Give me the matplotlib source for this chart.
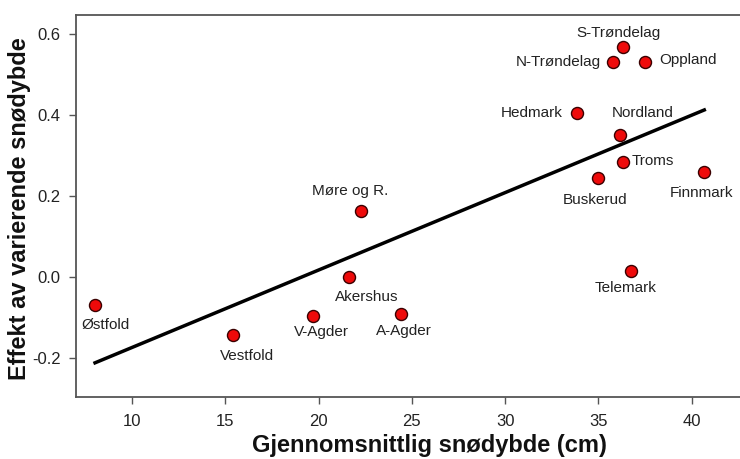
import matplotlib
matplotlib.use("Agg")
import matplotlib.pyplot as plt
import numpy as np

plt.rcParams['font.family'] = ['Liberation Sans', 'DejaVu Sans']

counties = ["Østfold", "Vestfold", "V-Agder", "Akershus", "A-Agder", "Telemark",
            "Møre og R.", "S-Trøndelag", "N-Trøndelag", "Oppland", "Hedmark",
            "Nordland", "Troms", "Buskerud", "Finnmark"]
snow_depth = [8.02, 15.40, 19.68, 21.65, 24.40, 36.72,
              22.25, 36.33, 35.76, 37.51, 33.87,
              36.15, 36.30, 34.99, 40.67]
effect = [-0.069, -0.143, -0.096, 0.000, -0.090, 0.016,
          0.164, 0.567, 0.530, 0.530, 0.405,
          0.351, 0.283, 0.244, 0.259]
fit_slope = 0.01912
fit_intercept = -0.365

# label offsets in pixels (dx, dy up) and alignment
label_pos = {
    "Østfold": (11, -20, "center"),
    "Vestfold": (14, -21, "center"),
    "V-Agder": (9, -16, "center"),
    "Akershus": (17, -20, "center"),
    "A-Agder": (3, -17, "center"),
    "Telemark": (-5, -17, "center"),
    "Møre og R.": (-10, 20, "center"),
    "S-Trøndelag": (-5, 14, "center"),
    "N-Trøndelag": (-12, 0, "right"),
    "Oppland": (14, 2, "left"),
    "Hedmark": (-15, 0, "right"),
    "Nordland": (23, 22, "center"),
    "Troms": (9, 1, "left"),
    "Buskerud": (-3, -22, "center"),
    "Finnmark": (-3, -21, "center"),
}

fig = plt.figure(figsize=(7.4, 4.59), dpi=100)
ax = fig.add_axes([0.1027, 0.1351, 0.9078, 0.8322])
ax.set_xlim(7, 43)
ax.set_ylim(-0.296, 0.647)

xs = np.array([min(snow_depth), max(snow_depth)])
ax.plot(xs, fit_intercept + fit_slope * xs, color="black", lw=2.5, zorder=2)

ax.scatter(snow_depth, effect, s=75, facecolor="#ee0a0a", edgecolor="#3a0000",
           linewidths=1.0, zorder=3)

for name, x, y in zip(counties, snow_depth, effect):
    dx, dy, ha = label_pos[name]
    ax.annotate(name, (x, y), xytext=(dx, dy), textcoords="offset pixels",
                ha=ha, va="center", fontsize=11, color="#222222")

ax.set_xticks([10, 15, 20, 25, 30, 35, 40])
ax.set_yticks([-0.2, 0.0, 0.2, 0.4, 0.6])
ax.set_yticklabels(["-0.2", "0.0", "0.2", "0.4", "0.6"])
ax.tick_params(direction="out", length=5, width=1, color="#555555",
               labelsize=12, labelcolor="#222222")
ax.tick_params(axis="y", pad=6)
ax.tick_params(axis="x", pad=7)
for side in ["left", "bottom", "top"]:
    ax.spines[side].set_color("#555555")
    ax.spines[side].set_linewidth(1.3)
ax.spines["right"].set_visible(False)

ax.set_xlabel("Gjennomsnittlig snødybde (cm)", fontsize=17, fontweight="bold",
              color="#111111", va="center")
ax.set_ylabel("Effekt av varierende snødybde", fontsize=17, fontweight="bold",
              color="#111111", va="center")
ax.xaxis.set_label_coords(0.526, -0.126)
ax.yaxis.set_label_coords(-0.0835, 0.492)

fig.savefig("out.png", dpi=100)
